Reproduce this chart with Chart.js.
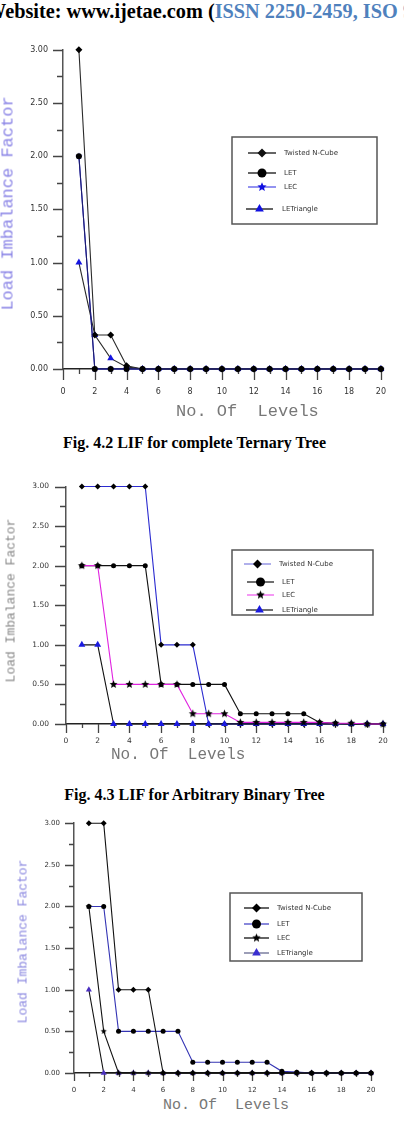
<!DOCTYPE html>
<html><head><meta charset="utf-8">
<script src="https://cdn.jsdelivr.net/npm/chart.js@4"></script>
<style>
html,body{margin:0;padding:0;background:#fff;width:404px;height:1128px;overflow:hidden;position:relative}
.t{position:absolute;white-space:pre;line-height:1}
.mono{font-family:'Courier New',Courier,'Nimbus Mono PS','Nimbus Mono L',FreeMono,'Liberation Mono',monospace}
.cap{font-family:'Liberation Serif','Times New Roman',serif;font-weight:bold;font-size:16px;color:#000;text-align:center;left:0;width:389px}
.rot{text-align:center;transform:rotate(-90deg)}
canvas{position:absolute;left:0}
</style></head><body>
<div class="t" style="left:-14px;top:0px;font:bold 20.3px 'Liberation Serif',serif;color:#000">Website: www.ijetae.com (<span style="color:#4f81bd">ISSN 2250-2459, ISO 9001:2008 Certified Journal</span></div>

<canvas id="c1" width="404" height="380" style="top:30px"></canvas>
<div class="t mono rot" style="left:-142.5px;top:195px;width:300px;font-size:17px;color:#8a84e6">Load Imbalance Factor</div>
<div class="t mono" style="left:176px;top:403px;font-size:17px;color:#777">No. Of  Levels</div>
<div class="t cap" style="top:434.6px">Fig. 4.2 LIF for complete Ternary Tree</div>

<canvas id="c2" width="404" height="290" style="top:465px"></canvas>
<div class="t mono rot" style="left:-139.5px;top:593.5px;width:300px;font-size:13px;color:#888">Load Imbalance Factor</div>
<div class="t mono" style="left:111px;top:746.7px;font-size:16px;color:#777">No. Of  Levels</div>
<div class="t cap" style="top:786.6px">Fig. 4.3 LIF for Arbitrary Binary Tree</div>

<canvas id="c3" width="404" height="290" style="top:805px"></canvas>
<div class="t mono rot" style="left:-127.5px;top:935px;width:300px;font-size:13px;color:#8b88e0">Load Imbalance Factor</div>
<div class="t mono" style="left:163px;top:1097.5px;font-size:15px;color:#777">No. Of  Levels</div>

<script>
// ---------------- data ----------------
const levels = [1,2,3,4,5,6,7,8,9,10,11,12,13,14,15,16,17,18,19,20];
const seriesNames = ['Twisted N-Cube','LET','LEC','LETriangle'];

// Fig 4.2 – complete Ternary Tree
const ternaryTwisted = [3.00,0.32,0.32,0.03,0,0,0,0,0,0,0,0,0,0,0,0,0,0,0,0];
const ternaryLET     = [2.00,0,0,0,0,0,0,0,0,0,0,0,0,0,0,0,0,0,0,0];
const ternaryLEC     = [2.00,0,0,0,0,0,0,0,0,0,0,0,0,0,0,0,0,0,0,0];
const ternaryLETri   = [1.00,0.32,0.10,0.02,0,0,0,0,0,0,0,0,0,0,0,0,0,0,0,0];

// Fig 4.3 – Arbitrary Binary Tree
const binaryTwisted = [3,3,3,3,3,1,1,1,0,0,0,0,0,0,0,0,0,0,0,0];
const binaryLET     = [2,2,2,2,2,0.5,0.5,0.5,0.5,0.5,0.13,0.13,0.13,0.13,0.13,0.02,0.01,0,0,0];
const binaryLEC     = [2,2,0.5,0.5,0.5,0.5,0.5,0.13,0.13,0.13,0.02,0.02,0.02,0.02,0.02,0.02,0.01,0.01,0,0];
const binaryLETri   = [1,1,0,0,0,0,0,0,0,0,0,0,0,0,0,0,0,0,0,0];

// third chart
const thirdTwisted = [3,3,1,1,1,0,0,0,0,0,0,0,0,0,0,0,0,0,0,0];
const thirdLET     = [2,2,0.5,0.5,0.5,0.5,0.5,0.13,0.13,0.13,0.13,0.13,0.13,0.02,0.01,0,0,0,0,0];
const thirdLEC     = [2,0.5,0,0,0,0,0,0,0,0,0,0,0,0,0,0,0,0,0,0];
const thirdLETri   = [1,0,0,0,0,0,0,0,0,0,0,0,0,0,0,0,0,0,0,0];

const xTickValues = [0,1,2,3,4,5,6,7,8,9,10,11,12,13,14,15,16,17,18,19,20];
const yTickValues = [0,0.25,0.5,0.75,1,1.25,1.5,1.75,2,2.25,2.5,2.75,3];

// ---------------- helpers ----------------
function pts(vals){ return vals.map((v,i)=>({x:levels[i], y:v})); }

function starCanvas(r, color){
  const s = Math.ceil(r*2)+2;
  const c = document.createElement('canvas'); c.width = c.height = s;
  const g = c.getContext('2d'); g.fillStyle = color; g.beginPath();
  for (let i=0;i<10;i++){
    const rr = (i%2) ? r*0.45 : r;
    const a = -Math.PI/2 + i*Math.PI/5;
    g.lineTo(s/2 + rr*Math.cos(a), s/2 + rr*Math.sin(a));
  }
  g.closePath(); g.fill();
  return c;
}

function marker(ctx, style, r, x, y, color){
  ctx.save();
  ctx.fillStyle = color; ctx.strokeStyle = color; ctx.lineWidth = 1;
  if (style instanceof HTMLCanvasElement){
    ctx.drawImage(style, x - style.width/2, y - style.height/2);
  } else {
    ctx.beginPath();
    if (style === 'circle'){ ctx.arc(x,y,r,0,Math.PI*2); }
    else if (style === 'rectRot'){ ctx.moveTo(x,y-r); ctx.lineTo(x+r,y); ctx.lineTo(x,y+r); ctx.lineTo(x-r,y); ctx.closePath(); }
    else if (style === 'triangle'){ ctx.moveTo(x,y-r); ctx.lineTo(x+r*0.866,y+r*0.5); ctx.lineTo(x-r*0.866,y+r*0.5); ctx.closePath(); }
    ctx.fill();
  }
  ctx.restore();
}

const axisTicks = {
  id:'axisTicks',
  beforeDatasetsDraw(chart, args, o){
    const ctx = chart.ctx, xs = chart.scales.x, ys = chart.scales.y;
    ctx.save(); ctx.strokeStyle = o.color; ctx.lineWidth = o.width;
    ctx.beginPath();
    xTickValues.forEach(v=>{
      const px = Math.round(xs.getPixelForValue(v))+0.5;
      const len = (v%2===0) ? o.xMajor : o.xMinor;
      ctx.moveTo(px, ys.bottom); ctx.lineTo(px, ys.bottom+len);
    });
    yTickValues.forEach((v,k)=>{
      const py = Math.round(ys.getPixelForValue(v))+0.5;
      const len = (k%2===0) ? o.yMajor : o.yMinor;
      ctx.moveTo(xs.left-len, py); ctx.lineTo(xs.left, py);
    });
    ctx.stroke(); ctx.restore();
  }
};

const boxLegend = {
  id:'boxLegend',
  afterDatasetsDraw(chart, args, o){
    const ctx = chart.ctx, top = o.offset;
    ctx.save();
    ctx.strokeStyle = '#555'; ctx.lineWidth = 1.5;
    ctx.strokeRect(o.box[0], o.box[1]-top, o.box[2]-o.box[0], o.box[3]-o.box[1]);
    ctx.font = o.font; ctx.textBaseline = 'middle'; ctx.textAlign = 'left';
    o.items.forEach((it,i)=>{
      const y = it.y - top;
      ctx.strokeStyle = it.line; ctx.lineWidth = 1.3;
      ctx.beginPath(); ctx.moveTo(it.x1,y); ctx.lineTo(it.x2,y); ctx.stroke();
      marker(ctx, it.style, it.r, (it.x1+it.x2)/2, y, it.fill);
      ctx.fillStyle = '#333';
      ctx.fillText(chart.data.datasets[i].label, it.tx, y);
    });
    ctx.restore();
  }
};

function makeChart(id, canvasTop, area, tick, datasets, legend){
  const cv = document.getElementById(id);
  const H = cv.height;
  const xh = H - (area.bottom - canvasTop);
  return new Chart(cv, {
    type:'line',
    data:{ datasets },
    plugins:[axisTicks, boxLegend],
    options:{
      responsive:false, animation:false, events:[],
      layout:{ padding:{ left:0, top: area.top - canvasTop, right: 404 - area.right, bottom:0 } },
      elements:{ line:{ tension:0, borderWidth:1.1 } },
      scales:{
        x:{ type:'linear', min:0, max:20,
            grid:{ display:false, drawTicks:false, tickLength:0 },
            border:{ display:true, color:'#222', width:1.5 },
            ticks:{ stepSize:2, autoSkip:false, maxRotation:0, padding:tick.xPad,
                    font:{ family:'DejaVu Sans', size:tick.size }, color:'#333',
                    callback:v=>String(v) },
            afterFit(s){ s.height = xh; } },
        y:{ min:0, max:3,
            grid:{ display:false, drawTicks:false, tickLength:0 },
            border:{ display:true, color:'#555', width:1.5 },
            ticks:{ stepSize:0.5, padding:tick.yPad,
                    font:{ family:'DejaVu Sans', size:tick.size }, color:'#333',
                    callback:v=>Number(v).toFixed(2) },
            afterFit(s){ s.width = area.left; } }
      },
      plugins:{
        legend:{ display:false }, tooltip:{ enabled:false },
        axisTicks: tick.marks,
        boxLegend: Object.assign({ offset: canvasTop, font:"7px 'DejaVu Sans'" }, legend)
      }
    }
  });
}

function ds(label, vals, line, style, r, fill, order){
  return { label, data: pts(vals), borderColor: line, backgroundColor: fill,
           pointStyle: style, pointRadius: r, pointBackgroundColor: fill, pointBorderColor: fill,
           pointBorderWidth: 0, order, clip:false, showLine:true };
}

// ---------------- chart 1 ----------------
const starBlue = starCanvas(3.5, '#1515e0');
makeChart('c1', 30, {left:63, right:387, top:39, bottom:369},
  { size:8, xPad:18, yPad:15, marks:{ color:'#444', width:1.3, xMajor:11, xMinor:5, yMajor:10, yMinor:6 } },
  [
    ds(seriesNames[0], ternaryTwisted, '#2a2a2a', 'rectRot', 3.5, '#000', 1),
    ds(seriesNames[1], ternaryLET, '#1c1c6b', 'circle', 3, '#000', 0),
    ds(seriesNames[2], ternaryLEC, '#2a2ad8', starBlue, 3.5, '#1515e0', 2),
    ds(seriesNames[3], ternaryLETri, '#2a2a2a', 'triangle', 4, '#1515e0', 3)
  ],
  { box:[232,137,377,224], items:[
      { y:153, x1:248, x2:276, line:'#111', style:'rectRot', r:4.5, fill:'#111', tx:284 },
      { y:173, x1:248, x2:276, line:'#111', style:'circle', r:4.5, fill:'#000', tx:284 },
      { y:187, x1:248, x2:276, line:'#5858e8', style:starCanvas(4.8,'#1010e0'), r:4.5, fill:'#1010e0', tx:284 },
      { y:209, x1:246, x2:273, line:'#111', style:'triangle', r:5, fill:'#1010e0', tx:282 }
  ]});

// ---------------- chart 2 ----------------
const starBlack = starCanvas(4.2, '#000');
makeChart('c2', 465, {left:66, right:383, top:476, bottom:724},
  { size:7.5, xPad:12.5, yPad:17, marks:{ color:'#444', width:1.3, xMajor:9, xMinor:4, yMajor:11, yMinor:6 } },
  [
    ds(seriesNames[0], binaryTwisted, '#2b2bd0', 'rectRot', 3, '#000', 3),
    ds(seriesNames[1], binaryLET, '#111', 'circle', 2.5, '#000', 2),
    ds(seriesNames[2], binaryLEC, '#e025e0', starBlack, 4, '#000', 0),
    ds(seriesNames[3], binaryLETri, '#111', 'triangle', 4, '#1a1ae0', 1)
  ],
  { box:[232,550,373,615], items:[
      { y:564, x1:244, x2:271, line:'#8585e0', style:'rectRot', r:4.5, fill:'#000', tx:279 },
      { y:582, x1:247, x2:274, line:'#222', style:'circle', r:4.5, fill:'#000', tx:282 },
      { y:595, x1:247, x2:274, line:'#f060f0', style:starCanvas(4.5,'#000'), r:4.5, fill:'#000', tx:282 },
      { y:610, x1:246, x2:273, line:'#222', style:'triangle', r:5, fill:'#1a1ae0', tx:282 }
  ]});

// ---------------- chart 3 ----------------
const starBlack3 = starCanvas(3.2, '#000');
makeChart('c3', 805, {left:74, right:371, top:817, bottom:1073},
  { size:7, xPad:12.8, yPad:14, marks:{ color:'#444', width:1.3, xMajor:8, xMinor:4, yMajor:9, yMinor:5 } },
  [
    ds(seriesNames[0], thirdTwisted, '#111', 'rectRot', 3, '#000', 1),
    ds(seriesNames[1], thirdLET, '#3434b4', 'circle', 2.5, '#000', 2),
    ds(seriesNames[2], thirdLEC, '#111', starBlack3, 3, '#000', 0),
    ds(seriesNames[3], thirdLETri, '#111', 'triangle', 3.5, '#4a2fc0', 3)
  ],
  { box:[230,893,362,961], items:[
      { y:908, x1:244, x2:269, line:'#111', style:'rectRot', r:4.5, fill:'#000', tx:277 },
      { y:924, x1:244, x2:269, line:'#4848c8', style:'circle', r:4.5, fill:'#000', tx:277 },
      { y:938, x1:244, x2:269, line:'#111', style:starCanvas(4.5,'#000'), r:4.5, fill:'#000', tx:277 },
      { y:953, x1:244, x2:269, line:'#666a90', style:'triangle', r:5, fill:'#3a2ed0', tx:277 }
  ]});
</script>
</body></html>
